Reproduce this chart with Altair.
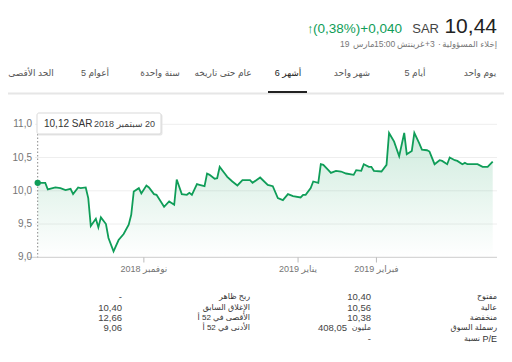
import altair as alt
import pandas as pd

# ---------------- data ----------------
dates = [
    "2018-09-20", "2018-09-23", "2018-09-24", "2018-09-27", "2018-09-29",
    "2018-10-01", "2018-10-03", "2018-10-04", "2018-10-06", "2018-10-07",
    "2018-10-09", "2018-10-10", "2018-10-11", "2018-10-13", "2018-10-14",
    "2018-10-15", "2018-10-17", "2018-10-18", "2018-10-20", "2018-10-22",
    "2018-10-24", "2018-10-26", "2018-10-27", "2018-10-28", "2018-10-30",
    "2018-10-31", "2018-11-02", "2018-11-03", "2018-11-05", "2018-11-06",
    "2018-11-09", "2018-11-11", "2018-11-13", "2018-11-14", "2018-11-16",
    "2018-11-18", "2018-11-19", "2018-11-20", "2018-11-22", "2018-11-23",
    "2018-11-25", "2018-11-26", "2018-11-27", "2018-11-29", "2018-11-30",
    "2018-12-01", "2018-12-03", "2018-12-04", "2018-12-06", "2018-12-08",
    "2018-12-10", "2018-12-13", "2018-12-14", "2018-12-17", "2018-12-20",
    "2018-12-22", "2018-12-24", "2018-12-26", "2018-12-28", "2018-12-30",
    "2019-01-02", "2019-01-03", "2019-01-04", "2019-01-06", "2019-01-07",
    "2019-01-09", "2019-01-10", "2019-01-11", "2019-01-13", "2019-01-14",
    "2019-01-16", "2019-01-18", "2019-01-20", "2019-01-23", "2019-01-24",
    "2019-01-26", "2019-01-27", "2019-01-29", "2019-01-30", "2019-01-31",
    "2019-02-03", "2019-02-05", "2019-02-06", "2019-02-08", "2019-02-10",
    "2019-02-12", "2019-02-13", "2019-02-15", "2019-02-16", "2019-02-18",
    "2019-02-19", "2019-02-21", "2019-02-22", "2019-02-24", "2019-02-26",
    "2019-02-27", "2019-03-01", "2019-03-02", "2019-03-04", "2019-03-05",
    "2019-03-07", "2019-03-08", "2019-03-09", "2019-03-13", "2019-03-15",
    "2019-03-17", "2019-03-19",
]
prices = [
    10.12, 10.12, 10.02, 10.05, 10.04,
    10.01, 10.03, 9.95, 10.05, 10.04,
    10.05, 9.89, 9.47, 9.58, 9.45,
    9.60, 9.50, 9.29, 9.09, 9.26,
    9.35, 9.49, 9.64, 9.99, 10.04,
    9.96, 10.08, 10.05, 9.95, 9.94,
    9.76, 9.84, 9.79, 10.17, 9.95,
    9.94, 9.97, 9.94, 10.10, 10.09,
    10.07, 10.26, 10.24, 10.18, 10.19,
    10.36, 10.26, 10.21, 10.14, 10.08,
    10.16, 10.16, 10.12, 10.20, 10.09,
    10.07, 9.89, 9.86, 9.95, 9.92,
    9.90, 9.94, 9.94, 10.04, 10.14,
    10.12, 10.40, 10.39, 10.31, 10.27,
    10.30, 10.29, 10.26, 10.24, 10.31,
    10.30, 10.40, 10.36, 10.36, 10.30,
    10.29, 10.39, 10.87, 10.74, 10.52,
    10.87, 10.55, 10.60, 10.87, 10.71,
    10.62, 10.61, 10.59, 10.40, 10.46,
    10.45, 10.40, 10.50, 10.46, 10.45,
    10.40, 10.42, 10.40, 10.40, 10.36,
    10.36, 10.44,
]

y_ticks = [9.0, 9.5, 10.0, 10.5, 11.0]
y_tick_labels = ["9,0", "9,5", "10,0", "10,5", "11,0"]

month_ticks = ["2018-11-01", "2019-01-01", "2019-02-01"]
month_labels = ["نوفمبر 2018", "يناير 2019", "فبراير 2019"]

tab_labels = ["يوم واحد", "5 أيام", "شهر واحد", "6 أشهر",
              "عام حتى تاريخه", "سنة واحدة", "5 أعوام", "الحد الأقصى"]
selected_tab = "6 أشهر"

price_now = "10,44"
currency = "SAR"
change_text = "(0,38%)+0,040"
# subtitle pieces, in visual left-to-right order
subtitle_parts = ["19", "مارس", "15:00", "غرينتش", "+3", "·", "إخلاء المسؤولية"]
tooltip_value = "10,12 SAR"
tooltip_date = "\u202b20 سبتمبر 2018\u202c"

stats_right_labels = ["مفتوح", "عالية", "منخفضة", "رسملة السوق", ["نسبة", "P/E"]]
stats_right_values = ["10,40", "10,56", "10,38", ["408,05", "مليون"], "-"]
stats_left_labels = ["ربح ظاهر", "الإغلاق السابق", "الأقصى في 52 أ", "الأدنى في 52 أ"]
stats_left_values = ["-", "10,40", "12,66", "9,06"]

# ---------------- styling ----------------
FONT = "Liberation Sans, Arial, DejaVu Sans, sans-serif"
GREEN = "#0f9d58"

price_df = pd.DataFrame({"date": dates, "price": prices})

xs = alt.Scale(
    type="utc",
    domain=[alt.DateTime(year=2018, month=9, date=20, utc=True),
            alt.DateTime(year=2019, month=3, date=19, utc=True)],
    range=[29.7, 484.7],
    nice=False,
)
ys = alt.Scale(domain=[9, 11], range=[249.3, 116.3], zero=False, nice=False)


def X(field):
    return alt.X(field, scale=xs, axis=None)


def Y(field):
    return alt.Y(field, scale=ys, axis=None)


def label(text, x, y, size=9.5, color="#444444", align="right",
          baseline="middle", weight="normal"):
    return alt.Chart(alt.Data(values=[{"t": text}])).mark_text(
        align=align, baseline=baseline, fontSize=size, color=color,
        font=FONT, fontWeight=weight
    ).encode(x=alt.value(x), y=alt.value(y), text="t:N")


layers = []

# gridlines
grid = alt.Chart(pd.DataFrame({"v": y_ticks[1:]})).mark_rule(
    color="#eeeeee", strokeWidth=1
).encode(y=Y("v:Q"), x=alt.value(27), x2=alt.value(489))
layers.append(grid)

# area + line
area = alt.Chart(price_df).mark_area(
    color=alt.Gradient(
        gradient="linear",
        stops=[alt.GradientStop(color="rgba(15,157,88,0.20)", offset=0),
               alt.GradientStop(color="rgba(15,157,88,0.0)", offset=1)],
        x1=1, x2=1, y1=0, y2=1,
    )
).encode(x=X("date:T"), y=Y("price:Q"), y2=alt.datum(y_ticks[0]))
layers.append(area)

line = alt.Chart(price_df).mark_line(color=GREEN, strokeWidth=1.8).encode(
    x=X("date:T"), y=Y("price:Q")
)
layers.append(line)

# baseline
base = alt.Chart(pd.DataFrame({"v": [y_ticks[0]]})).mark_rule(
    color="#cccccc", strokeWidth=1
).encode(y=Y("v:Q"), x=alt.value(20), x2=alt.value(489))
layers.append(base)

# y labels
ylab = alt.Chart(pd.DataFrame({"v": y_ticks, "t": y_tick_labels})).mark_text(
    align="right", baseline="middle", fontSize=10, color="#757575", font=FONT
).encode(y=Y("v:Q"), x=alt.value(24), text="t:N")
layers.append(ylab)

# x ticks and labels
mdf = pd.DataFrame({"d": month_ticks, "t": month_labels})
xt = alt.Chart(mdf).mark_rule(color="#bbbbbb", strokeWidth=1).encode(
    x=X("d:T"), y=alt.value(249.3), y2=alt.value(254.5)
)
xl = alt.Chart(mdf).mark_text(
    align="center", baseline="middle", fontSize=9, color="#757575", font=FONT
).encode(x=X("d:T"), y=alt.value(261), text="t:N")
layers += [xt, xl]

# hover marker
first = pd.DataFrame({"date": [dates[0]], "price": [prices[0]]})
vrule = alt.Chart(first).mark_rule(
    color="#888888", strokeWidth=1, strokeDash=[1.5, 2]
).encode(x=X("date:T"), y=alt.value(126), y2=alt.value(249.3))
dot = alt.Chart(first).mark_circle(color=GREEN, opacity=1, size=40).encode(
    x=X("date:T"), y=Y("price:Q")
)
layers += [vrule, dot]

# tooltip box
shadow = alt.Chart(alt.Data(values=[{}])).mark_rect(
    color="#e6e6e6", cornerRadius=2
).encode(x=alt.value(29.5), x2=alt.value(154.5), y=alt.value(106), y2=alt.value(127.5))
box = alt.Chart(alt.Data(values=[{}])).mark_rect(
    fill="white", stroke="#d9d9d9", strokeWidth=1, cornerRadius=2
).encode(x=alt.value(29), x2=alt.value(153), y=alt.value(105), y2=alt.value(126))
layers += [shadow, box]
layers.append(label(tooltip_value, 36, 115.5, size=10, color="#333333", align="left"))
layers.append(label(tooltip_date, 147, 115.5, size=9, color="#444444", align="right"))

# header
layers.append(label(price_now, 489, 25, size=21, color="#222222", baseline="alphabetic"))
layers.append(label(currency, 431, 25, size=13, color="#444444", baseline="alphabetic"))
layers.append(label(change_text, 394, 25, size=13.5, color=GREEN, baseline="alphabetic"))
layers.append(label("↑", 299, 25, size=13, color=GREEN, align="left",
                    baseline="alphabetic", weight="bold"))
sub_x = [332, 345, 366, 389, 417, 430, 489]
for i, (t, x) in enumerate(zip(subtitle_parts, sub_x)):
    al = "right" if i == len(subtitle_parts) - 1 else "left"
    layers.append(label(t, x, 36, size=8.5, color="#777777", align=al))

# tabs
tab_x = [472, 407, 344, 280, 215, 152, 87, 23]
for t, x in zip(tab_labels, tab_x):
    col = "#222222" if t == selected_tab else "#555555"
    layers.append(label(t, x, 65, size=9, color=col, align="center"))

sep = alt.Chart(alt.Data(values=[{}])).mark_rule(color="#e6e6e6", strokeWidth=2).encode(
    x=alt.value(0), x2=alt.value(496), y=alt.value(85.5)
)
underline = alt.Chart(alt.Data(values=[{}])).mark_rule(color="#222222", strokeWidth=2).encode(
    x=alt.value(260), x2=alt.value(299), y=alt.value(84)
)
layers += [sep, underline]

# stats table
row_y = [289, 300, 310, 320, 331]
for i, t in enumerate(stats_right_labels):
    if isinstance(t, list):
        layers.append(label(t[0], 472, row_y[i], size=8, color="#333333"))
        layers.append(label(t[1], 489, row_y[i], size=9, color="#333333"))
    else:
        layers.append(label(t, 489, row_y[i], size=8, color="#333333"))
for i, t in enumerate(stats_right_values):
    if isinstance(t, list):
        layers.append(label(t[0], 339, row_y[i], size=9.5, color="#444444"))
        layers.append(label(t[1], 363, row_y[i], size=8, color="#444444"))
    else:
        layers.append(label(t, 363, row_y[i], size=9.5, color="#444444"))
for i, t in enumerate(stats_left_labels):
    layers.append(label(t, 242, row_y[i], size=8, color="#333333"))
for i, t in enumerate(stats_left_values):
    layers.append(label(t, 114, row_y[i], size=9.5, color="#444444"))

chart = alt.layer(*layers).properties(
    width=496, height=346, padding=0,
    autosize=alt.AutoSizeParams(type="none"),
).configure_view(strokeWidth=0)

chart.save("out.html", embed_options={"renderer": "svg", "actions": False})
